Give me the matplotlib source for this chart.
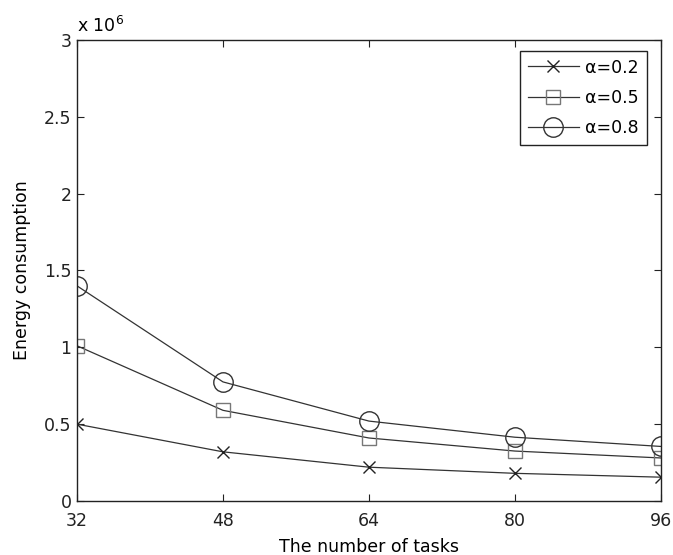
import matplotlib
matplotlib.use("Agg")
import matplotlib.pyplot as plt

# data
tasks = [32, 48, 64, 80, 96]
e_a02 = [0.50, 0.32, 0.22, 0.18, 0.155]
e_a05 = [1.01, 0.59, 0.41, 0.325, 0.28]
e_a08 = [1.40, 0.775, 0.52, 0.415, 0.355]
labels = ["\u03b1=0.2", "\u03b1=0.5", "\u03b1=0.8"]

plt.rcParams['font.family'] = ['DejaVu Sans']
fs = 12.5

fig = plt.figure(figsize=(6.73, 5.55), dpi=100)
ax = fig.add_axes([0.1144, 0.0973, 0.8676, 0.8307])

lc = '#333333'
ax.plot(tasks, e_a02, '-', color=lc, lw=0.9, marker='x', ms=9, mew=1.0,
        mec='#222222', label=labels[0])
ax.plot(tasks, e_a05, '-', color=lc, lw=0.9, marker='s', ms=10, mew=1.0,
        mfc='none', mec='#777777', label=labels[1])
ax.plot(tasks, e_a08, '-', color=lc, lw=0.9, marker='o', ms=14, mew=1.0,
        mfc='none', mec='#333333', label=labels[2])

ax.set_xlim(32, 96)
ax.set_ylim(0, 3)
ax.set_xticks(tasks)
ax.set_yticks([0, 0.5, 1, 1.5, 2, 2.5, 3])
ax.set_yticklabels(['0', '0.5', '1', '1.5', '2', '2.5', '3'])
ax.tick_params(direction='in', top=True, right=True, length=5, width=0.8,
               colors='#222222', labelsize=fs)
ax.tick_params(axis='x', pad=8)
ax.tick_params(axis='y', pad=4)
for s in ax.spines.values():
    s.set_linewidth(1.0)
    s.set_color('#222222')

ax.set_xlabel('The number of tasks', fontsize=fs, labelpad=6)
ax.set_ylabel('Energy consumption', fontsize=fs, labelpad=9)
ax.text(0.0, 1.008, 'x 10$^{6}$', transform=ax.transAxes, fontsize=fs,
        ha='left', va='bottom')

leg = ax.legend(loc='upper right', bbox_to_anchor=(0.985, 0.988),
                fancybox=False, framealpha=1, edgecolor='#222222',
                handlelength=2.9, borderpad=0.45, labelspacing=0.7,
                handletextpad=0.4, borderaxespad=0.3, fontsize=fs)
leg.get_frame().set_linewidth(1.0)

fig.savefig('out.png', dpi=100)
